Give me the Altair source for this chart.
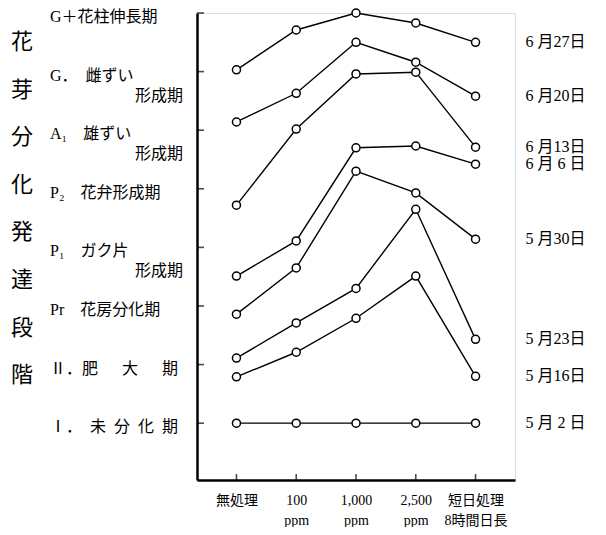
import altair as alt
import pandas as pd

# ---- data ----
treatments = ["無処理", "100\nppm", "1,000\nppm", "2,500\nppm", "短日処理\n8時間日長"]

dates = ["6 月27日", "6 月20日", "6 月13日", "6 月 6 日",
         "5 月30日", "5 月23日", "5 月16日", "5 月 2 日"]

s_0627 = [7.03, 7.71, 8.00, 7.83, 7.50]
s_0620 = [6.14, 6.63, 7.50, 7.16, 6.58]
s_0613 = [4.72, 6.02, 6.96, 6.99, 5.71]
s_0606 = [3.51, 4.11, 5.70, 5.73, 5.42]
s_0530 = [2.86, 3.65, 5.30, 4.93, 4.14]
s_0523 = [2.11, 2.71, 3.30, 4.65, 2.43]
s_0516 = [1.79, 2.21, 2.79, 3.51, 1.80]
s_0502 = [1.00, 1.00, 1.00, 1.00, 1.00]

series = [s_0627, s_0620, s_0613, s_0606, s_0530, s_0523, s_0516, s_0502]

stage_values = [1, 2, 3, 4, 5, 6, 7, 8]
stage_line1 = ["Ⅰ．\u3000未\u2002分\u2002化\u2002期", "Ⅱ．肥\u3000\u2002大\u3000\u2002期",
               "Pr　花房分化期", "P₁　ガク片",
               "P₂　花弁形成期", "A₁　雄ずい", "G．　雌ずい", "G＋花柱伸長期"]
stage_line2 = ["", "", "", "形成期", "", "形成期", "形成期", ""]

axis_title = "花芽分化発達段階"

# ---- tables ----
rows = []
for d, vals in zip(dates, series):
    for i, (t, v) in enumerate(zip(treatments, vals)):
        rows.append({"date": d, "treatment": t, "idx": i, "stage": v})
df = pd.DataFrame(rows)

stages = pd.DataFrame({"stage": stage_values, "l1": stage_line1, "l2": stage_line2})
treat_df = pd.DataFrame({"treatment": treatments})

FONT = "Liberation Serif, Noto Sans CJK JP"

W, H = 318, 467

xenc = alt.X(
    "treatment:N",
    sort=treatments,
    scale=alt.Scale(type="point", padding=0.66),
    axis=alt.Axis(
        title=None, ticks=False, grid=False, labelAngle=0,
        labelExpr="split(datum.label, '\\n')",
        labelFont=FONT, labelFontSize=14, labelLineHeight=20,
        labelPadding=13, labelColor="black",
        domainColor="black", domainWidth=2.5,
    ),
)
yenc = alt.Y(
    "stage:Q",
    scale=alt.Scale(domain=[0.03, 8], nice=False, zero=False),
    axis=alt.Axis(title=None, labels=False, ticks=False, grid=False,
                  domainColor="black", domainWidth=2.5),
)

lines = alt.Chart(df).mark_line(color="black", strokeWidth=1.4).encode(
    x=xenc, y=yenc, detail="date:N", order="idx:Q"
)

points = alt.Chart(df).mark_point(
    shape="circle", filled=True, fill="white", stroke="black",
    strokeWidth=1.5, size=64, opacity=1
).encode(x=xenc, y=yenc)

date_labels = alt.Chart(df).transform_filter("datum.idx == 4").mark_text(
    align="left", baseline="middle", dx=50, font=FONT, fontSize=16, color="black"
).encode(x=xenc, y=yenc, text="date:N")

ytick = alt.Chart(stages).mark_tick(
    orient="horizontal", size=7, thickness=1.6, color="black"
).encode(y=yenc, x=alt.value(3.5))

xtick = alt.Chart(treat_df).mark_tick(
    orient="vertical", size=6, thickness=1.6, color="black"
).encode(x=xenc, y=alt.value(H - 3))

lab1 = alt.Chart(stages).mark_text(
    align="left", baseline="middle", dy=4, font=FONT, fontSize=16, color="black"
).encode(y=yenc, x=alt.value(-147), text="l1:N")

lab2 = alt.Chart(stages).transform_filter("datum.l2 != ''").mark_text(
    align="right", baseline="middle", dy=24, font=FONT, fontSize=16, color="black"
).encode(y=yenc, x=alt.value(-14), text="l2:N")

title = alt.Chart(pd.DataFrame({"k": [0]})).mark_text(
    text=list(axis_title), lineHeight=47.6, fontSize=22, font=FONT,
    align="center", baseline="middle", color="black"
).encode(x=alt.value(-175), y=alt.value(29))

chart = alt.layer(
    lines, points, date_labels, ytick, xtick, lab1, lab2, title
).properties(
    width=W, height=H,
    autosize=alt.AutoSizeParams(type="none"),
    padding={"left": 189, "top": 5, "right": 83, "bottom": 47},
).configure_view(stroke=None).configure(background="white")

chart.save("out.html", embed_options={"renderer": "svg", "actions": False})
